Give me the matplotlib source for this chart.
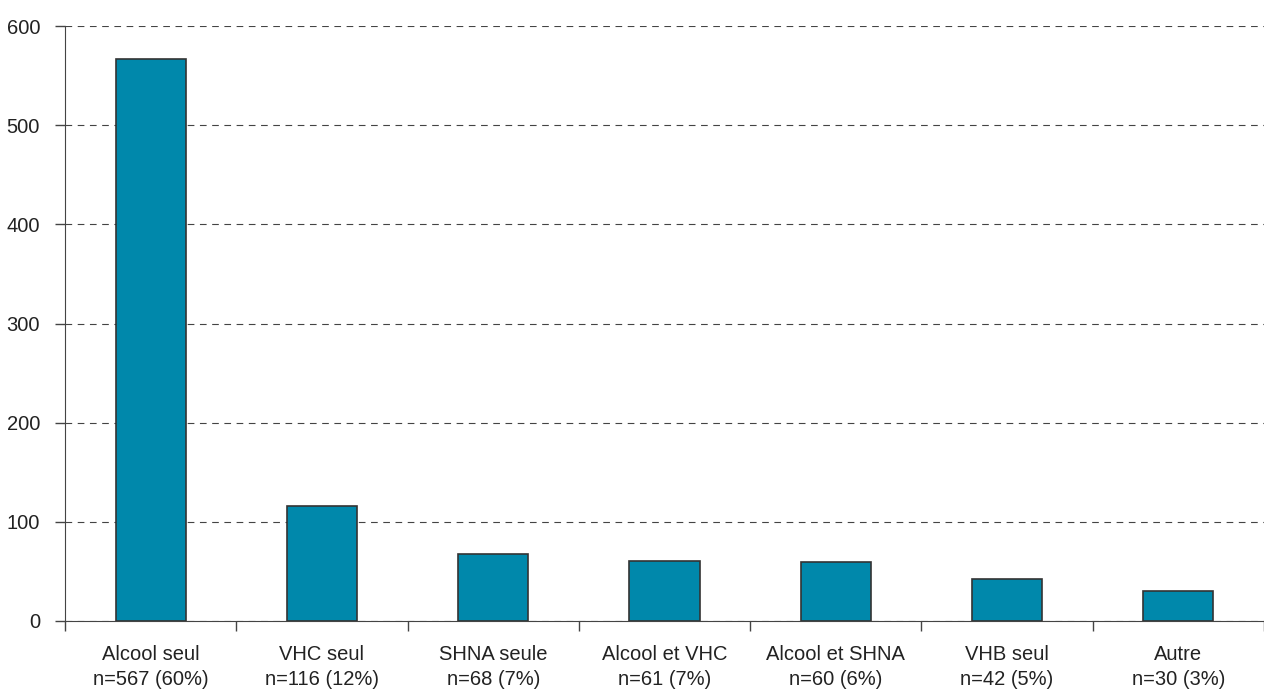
import matplotlib.pyplot as plt
import numpy as np

categories = ['Alcool seul', 'VHC seul', 'SHNA seule', 'Alcool et VHC',
              'Alcool et SHNA', 'VHB seul', 'Autre']
counts = [567, 116, 68, 61, 60, 42, 30]
percents = [60, 12, 7, 7, 6, 5, 3]
yticks = [0, 100, 200, 300, 400, 500, 600]

plt.rcParams['font.family'] = ['Liberation Sans Narrow', 'DejaVu Sans Condensed', 'Liberation Sans']

fig = plt.figure(figsize=(12.64, 6.9), dpi=100)
ax = fig.add_axes([65/1264, 0.1, 1 - 65/1264, 1 - 0.1 - 26/690])

x = np.arange(len(categories))
ax.bar(x, counts, width=0.41, color='#0088ab', edgecolor='#333333', linewidth=1.2, zorder=3)

ax.set_xlim(-0.5, len(categories) - 0.5)
ax.set_ylim(0, 600)
ax.set_yticks(yticks)
ax.set_yticklabels([str(t) for t in yticks], fontsize=14.5, color='#222222')
ax.yaxis.grid(True, linestyle=(0, (6, 5)), color='#444444', linewidth=0.8, zorder=0)

ax.set_xticks(np.arange(len(categories) + 1) - 0.5)
ax.set_xticklabels([])
ax.set_xticks(x, minor=True)
ax.set_xticklabels([f'{c}\nn={n} ({p}%)' for c, n, p in zip(categories, counts, percents)],
                   minor=True, fontsize=14.5, color='#222222', linespacing=1.45)
ax.tick_params(axis='x', which='minor', length=0, pad=17)
ax.tick_params(axis='x', which='major', length=7, color='#444444', width=1)
ax.tick_params(axis='y', length=7, color='#444444', width=1, pad=11)

for s in ['top', 'right']:
    ax.spines[s].set_visible(False)
ax.spines['left'].set_color('#444444')
ax.spines['bottom'].set_color('#444444')

fig.savefig('out.png', dpi=100)
